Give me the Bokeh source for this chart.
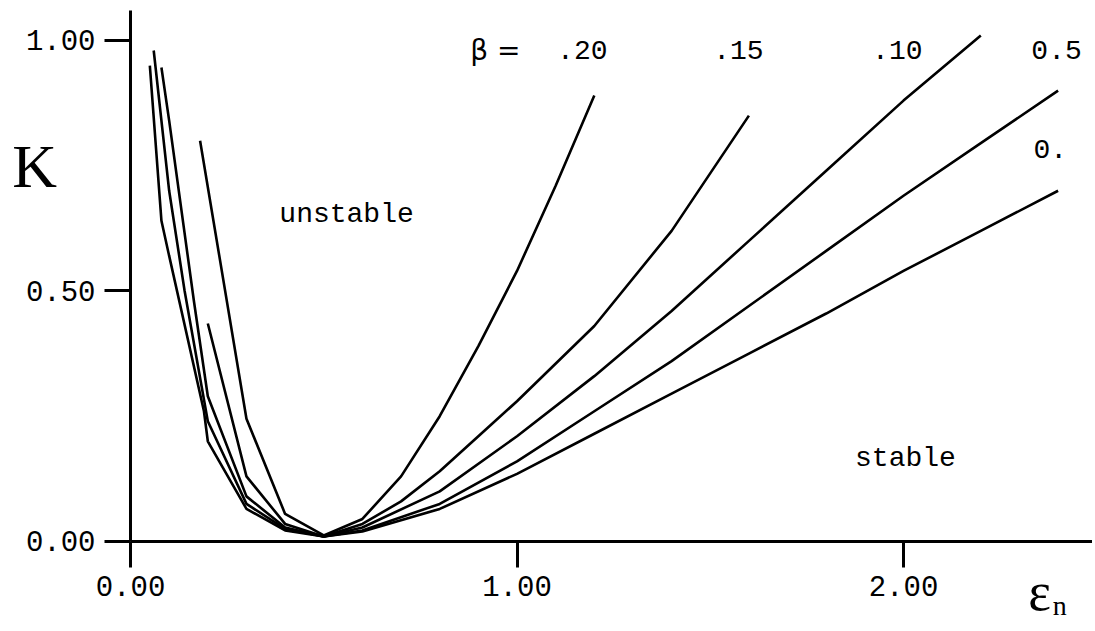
from bokeh.plotting import figure
from bokeh.models import Range1d, FixedTicker, NumeralTickFormatter, Label, LinearAxis
from bokeh.embed import file_html
from bokeh.resources import INLINE

# ---- data ----
x_b00 = [0.05, 0.08, 0.10, 0.19, 0.20, 0.30, 0.40, 0.50, 0.60, 0.80, 1.00, 1.20, 1.40, 1.60, 1.80, 2.00, 2.20, 2.40]
k_b00 = [0.95, 0.64, 0.57, 0.26, 0.20, 0.065, 0.022, 0.010, 0.020, 0.065, 0.135, 0.215, 0.295, 0.375, 0.455, 0.54, 0.62, 0.70]

x_b05 = [0.06, 0.10, 0.14, 0.20, 0.30, 0.40, 0.50, 0.60, 0.80, 1.00, 1.20, 1.40, 1.60, 1.80, 2.00, 2.20, 2.40]
k_b05 = [0.98, 0.70, 0.50, 0.24, 0.075, 0.025, 0.010, 0.022, 0.075, 0.16, 0.26, 0.36, 0.47, 0.58, 0.69, 0.795, 0.90]

x_b10 = [0.08, 0.10, 0.164, 0.20, 0.30, 0.40, 0.50, 0.60, 0.80, 1.00, 1.20, 1.40, 1.60, 1.80, 2.00, 2.20]
k_b10 = [0.946, 0.84, 0.48, 0.29, 0.09, 0.028, 0.010, 0.028, 0.10, 0.21, 0.33, 0.46, 0.60, 0.74, 0.88, 1.01]

x_b15 = [0.20, 0.30, 0.40, 0.50, 0.60, 0.70, 0.80, 0.90, 1.00, 1.20, 1.40, 1.60]
k_b15 = [0.435, 0.13, 0.035, 0.010, 0.035, 0.08, 0.14, 0.21, 0.28, 0.43, 0.62, 0.85]

x_b20 = [0.18, 0.30, 0.40, 0.50, 0.60, 0.70, 0.80, 0.90, 1.00, 1.10, 1.20]
k_b20 = [0.80, 0.245, 0.055, 0.012, 0.045, 0.13, 0.25, 0.39, 0.54, 0.71, 0.89]

series = [(x_b00, k_b00), (x_b05, k_b05), (x_b10, k_b10), (x_b15, k_b15), (x_b20, k_b20)]

beta_texts = ["\u03b2 =", ".20", ".15", ".10", "0.5", "0."]
x_ticks = [0, 1, 2]
y_ticks = [0, 0.5, 1.0]

MONO = "Liberation Mono"
SERIF = "Liberation Serif"

p = figure(width=1092, height=628, output_backend="svg", toolbar_location=None,
           x_range=Range1d(-0.3364, 2.489), y_range=Range1d(-0.1737, 1.0798),
           x_axis_location=None, y_axis_location=None,
           min_border_left=0, min_border_right=0, min_border_top=0, min_border_bottom=0)
p.outline_line_color = None
p.xgrid.visible = False
p.ygrid.visible = False
p.background_fill_color = "white"
p.border_fill_color = "white"

xax = LinearAxis(fixed_location=0, bounds=(0, 2.489))
yax = LinearAxis(fixed_location=0, bounds=(0, 1.06))
p.add_layout(xax, "below")
p.add_layout(yax, "left")

for ax, ticks in ((xax, x_ticks), (yax, y_ticks)):
    ax.ticker = FixedTicker(ticks=ticks)
    ax.formatter = NumeralTickFormatter(format="0.00")
    ax.axis_line_width = 3
    ax.axis_line_color = "black"
    ax.major_tick_line_width = 3
    ax.major_tick_line_color = "black"
    ax.major_tick_out = 26
    ax.major_tick_in = 0
    ax.minor_tick_line_color = None
    ax.major_label_text_font = MONO
    ax.major_label_text_font_size = "29px"
    ax.major_label_text_color = "black"
    ax.major_label_standoff = 9

for xs, ks in series:
    p.line(xs, ks, line_color="black", line_width=2.6)

def lab(x, y, t, font, size, align="center"):
    p.add_layout(Label(x=x, y=y, text=t, text_font=font, text_font_size=size,
                       text_align=align, text_baseline="middle", text_color="black"))

lab(-0.248, 0.749, "K", SERIF, "62px")
lab(2.352, -0.100, "\u03b5", SERIF, "54px")
lab(2.404, -0.128, "n", SERIF, "28px")
lab(0.559, 0.653, "unstable", MONO, "28px")
lab(2.005, 0.166, "stable", MONO, "28px")
lab(0.944, 0.98, beta_texts[0], "DejaVu Sans", "28px")
lab(1.169, 0.98, beta_texts[1], MONO, "28px")
lab(1.573, 0.98, beta_texts[2], MONO, "28px")
lab(1.984, 0.98, beta_texts[3], MONO, "28px")
lab(2.396, 0.98, beta_texts[4], MONO, "28px")
lab(2.380, 0.784, beta_texts[5], MONO, "28px")

open("out.html", "w").write(file_html(p, INLINE))
